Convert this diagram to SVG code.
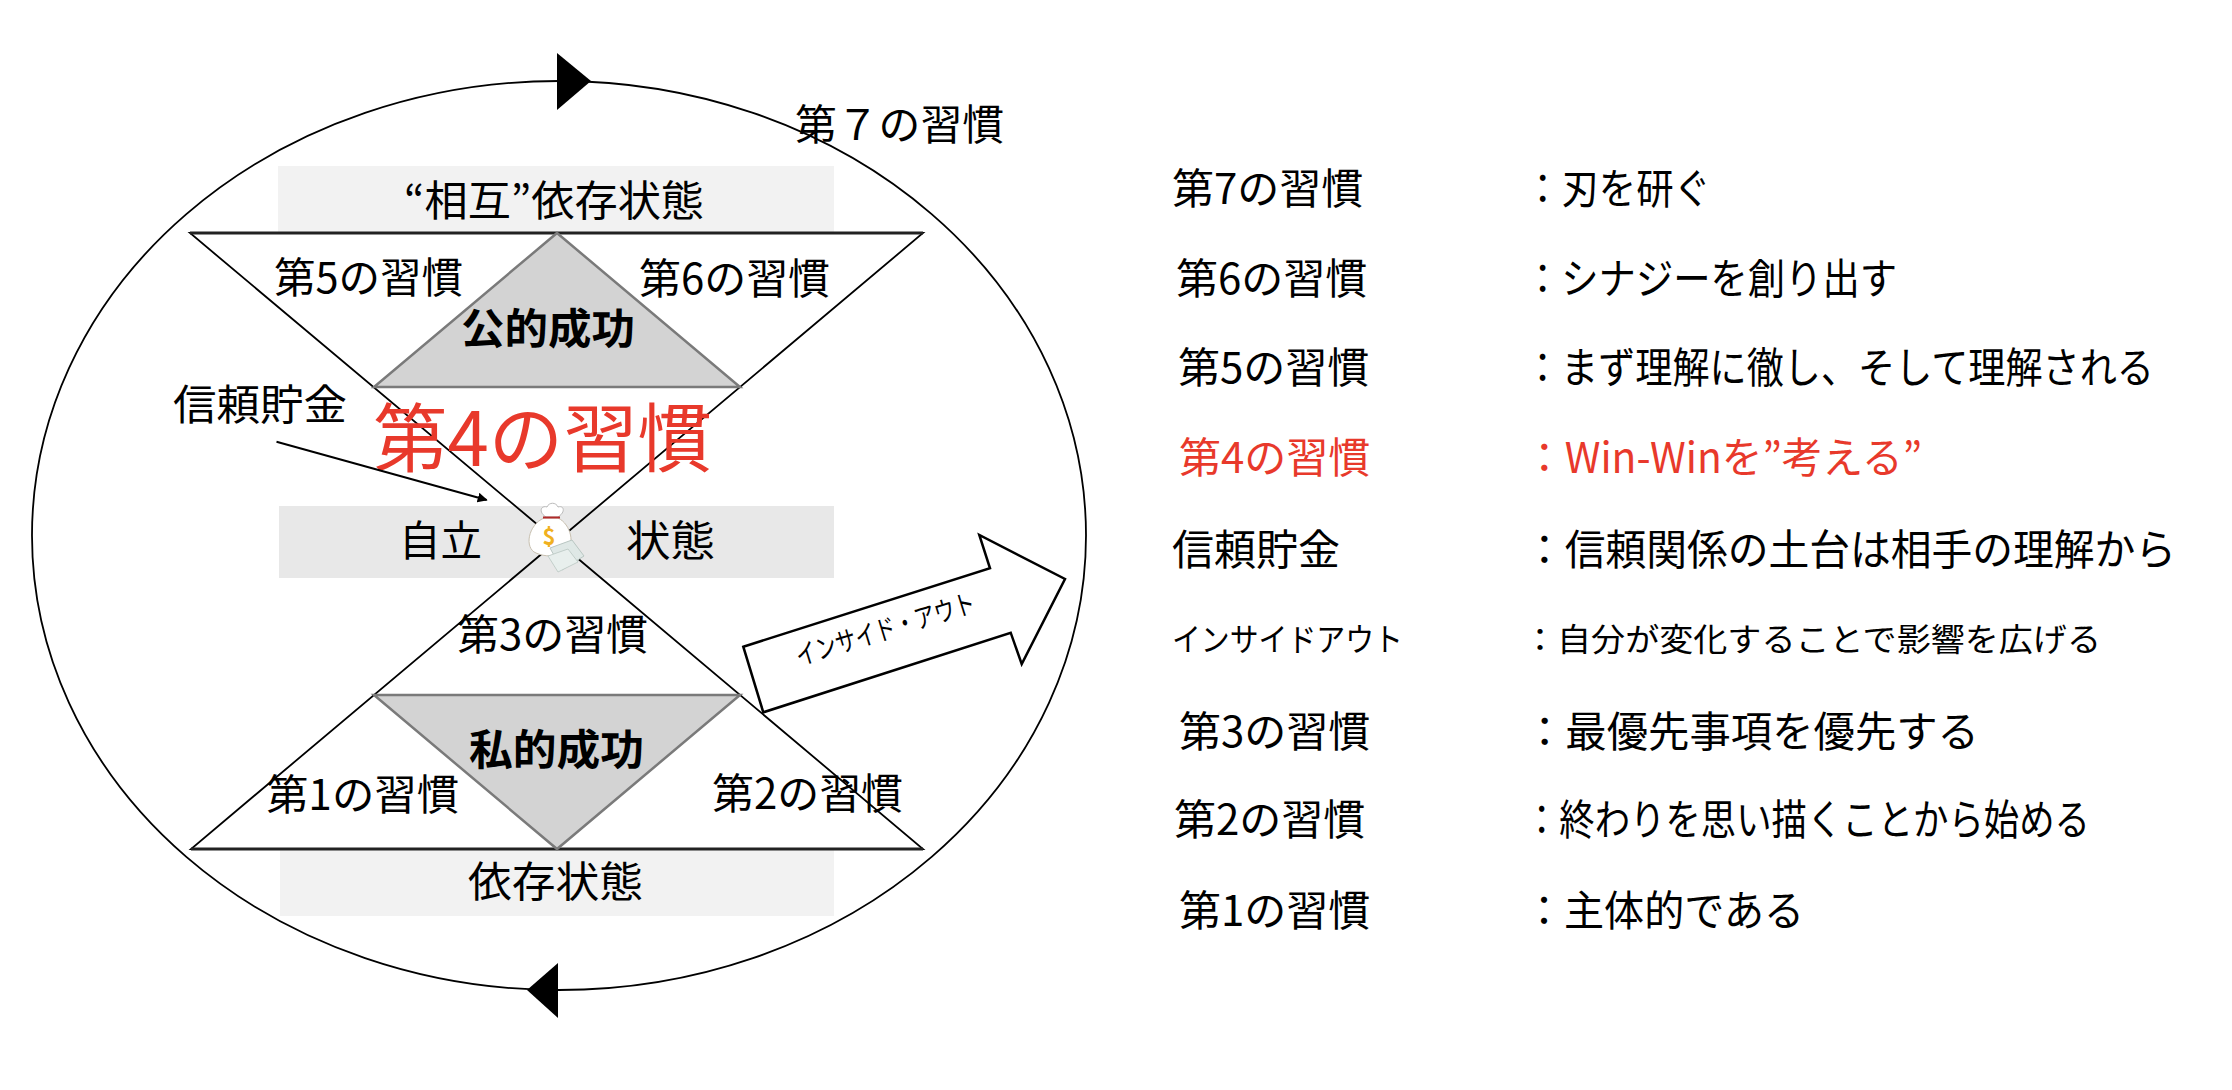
<svg xmlns="http://www.w3.org/2000/svg" width="2232" height="1090" viewBox="0 0 2232 1090">
<style>
text{font-family:"Noto Sans CJK JP","Noto Sans CJK SC",sans-serif;fill:#000;}
.t40{font-size:42px;}
.b{font-weight:bold;}
.red{fill:#e8392b;}
.box1{fill:#f2f2f2;}
.box2{fill:#e8e8e8;}
.ln{stroke:#000;stroke-width:1.8;fill:none;}
.base{stroke:#222;stroke-width:3;}
.gtri{fill:#d3d3d3;stroke:#7a7a7a;stroke-width:2.5;}
</style>
<defs>
<marker id="ah" markerWidth="10" markerHeight="10" refX="9" refY="5" orient="auto" markerUnits="userSpaceOnUse" viewBox="0 0 10 10">
<path d="M0,0 L10,5 L0,10 z" fill="#000"/>
</marker>
</defs>
<rect width="2232" height="1090" fill="#fff"/>

<g id="cycle">
<ellipse cx="559" cy="535.5" rx="527" ry="454.5" fill="none" stroke="#000" stroke-width="1.8"/>
<path d="M557,53 L591,81 L557,110 z" fill="#000"/>
<path d="M558,963 L527,990 L558,1018 z" fill="#000"/>
<text class="t40" x="795" y="140" textLength="209" lengthAdjust="spacingAndGlyphs">第７の習慣</text>
</g>

<g id="boxes">
<rect class="box1" x="278" y="166" width="556" height="67"/>
<rect class="box2" x="279" y="506" width="555" height="72"/>
<rect class="box1" x="280" y="849" width="554" height="67"/>
</g>

<g id="hourglass">
<polygon class="ln" points="190,233 923,233 557,541"/>
<polygon class="ln" points="557,541 191,849 923,849"/>
<line class="base" x1="190" y1="233" x2="923" y2="233"/>
<line class="base" x1="191" y1="849" x2="923" y2="849"/>
<polygon class="gtri" points="557,233 740,387 374,387"/>
<polygon class="gtri" points="374,695 740,695 557,849"/>
</g>

<g id="labels-top">
<text class="t40" x="404" y="216" textLength="300" lengthAdjust="spacingAndGlyphs">“相互”依存状態</text>
<text class="t40" x="274" y="293" textLength="189" lengthAdjust="spacingAndGlyphs">第5の習慣</text>
<text class="t40" x="639" y="294" textLength="191" lengthAdjust="spacingAndGlyphs">第6の習慣</text>
<text class="t40 b" x="461" y="344" textLength="174" lengthAdjust="spacingAndGlyphs">公的成功</text>
<text class="t40" x="173" y="420" textLength="174" lengthAdjust="spacingAndGlyphs">信頼貯金</text>
<text class="red" x="373" y="466" font-size="75" textLength="339" lengthAdjust="spacingAndGlyphs">第4の習慣</text>
</g>

<g id="labels-mid">
<text class="t40" x="399" y="556" textLength="83" lengthAdjust="spacingAndGlyphs">自立</text>
<text class="t40" x="626" y="556" textLength="89" lengthAdjust="spacingAndGlyphs">状態</text>
</g>

<g id="labels-bottom">
<text class="t40" x="457" y="650" textLength="191" lengthAdjust="spacingAndGlyphs">第3の習慣</text>
<text class="t40 b" x="469" y="765" textLength="175" lengthAdjust="spacingAndGlyphs">私的成功</text>
<text class="t40" x="266" y="810" textLength="193" lengthAdjust="spacingAndGlyphs">第1の習慣</text>
<text class="t40" x="712" y="809" textLength="191" lengthAdjust="spacingAndGlyphs">第2の習慣</text>
<text class="t40" x="468" y="897" textLength="175" lengthAdjust="spacingAndGlyphs">依存状態</text>
</g>

<g id="moneybag">
<path d="M546,517 C538,512 541,505 547,507 C549,502 556,502 558,507 C564,505 566,512 558,517 z" fill="#fff" stroke="#bbb" stroke-width="1"/>
<path d="M544,518 C528,525 524,548 536,553 C545,557 556,557 565,552 C576,546 571,524 558,518 z" fill="#fff" stroke="#c8c0b0" stroke-width="1"/>
<line x1="543" y1="517.5" x2="560" y2="517.5" stroke="#b02a2a" stroke-width="2"/>
<text x="549" y="545" font-size="22" font-weight="bold" text-anchor="middle" style="fill:#f0b020">$</text>
<polygon points="550,548 572,540 584,556 562,570" fill="#dfe8e6" stroke="#b9c6c2" stroke-width="1"/>
<polygon points="548,556 568,549 578,562 558,572" fill="#e8efed" stroke="#b9c6c2" stroke-width="0.8"/>
</g>

<g id="insideout">
<polygon points="743.3,646.7 990,568.3 979.3,535 1065,579 1021.7,664 1010.7,632.7 763.3,712.3" fill="#fff" stroke="#000" stroke-width="2.5" stroke-linejoin="miter"/>
<text x="885.5" y="639" font-size="27" text-anchor="middle" textLength="186" lengthAdjust="spacingAndGlyphs" transform="rotate(-17.1 885.5 630)">インサイド・アウト</text>
</g>

<g id="connectors">
<line x1="276.5" y1="441.7" x2="486.7" y2="500" stroke="#000" stroke-width="2" marker-end="url(#ah)"/>
</g>

<g id="list">
<text class="t40" x="1172" y="204">第7の習慣</text>
<text class="t40" x="1524" y="204" textLength="187" lengthAdjust="spacingAndGlyphs">：刃を研ぐ</text>
<text class="t40" x="1176" y="294">第6の習慣</text>
<text class="t40" x="1524" y="294" textLength="373" lengthAdjust="spacingAndGlyphs">：シナジーを創り出す</text>
<text class="t40" x="1178" y="383">第5の習慣</text>
<text class="t40" x="1524" y="383" textLength="630" lengthAdjust="spacingAndGlyphs">：まず理解に徹し、そして理解される</text>
<text class="t40 red" x="1179" y="473">第4の習慣</text>
<text class="t40 red" x="1524" y="473" textLength="398" lengthAdjust="spacingAndGlyphs">：Win-Winを”考える”</text>
<text class="t40" x="1172" y="565">信頼貯金</text>
<text class="t40" x="1524" y="565" textLength="652" lengthAdjust="spacingAndGlyphs">：信頼関係の土台は相手の理解から</text>
<text x="1172" y="651" font-size="32" textLength="231" lengthAdjust="spacingAndGlyphs">インサイドアウト</text>
<text x="1523" y="651" font-size="32" textLength="578" lengthAdjust="spacingAndGlyphs">：自分が変化することで影響を広げる</text>
<text class="t40" x="1179" y="747">第3の習慣</text>
<text class="t40" x="1524" y="747" textLength="455" lengthAdjust="spacingAndGlyphs">：最優先事項を優先する</text>
<text class="t40" x="1174" y="835">第2の習慣</text>
<text class="t40" x="1524" y="835" textLength="566" lengthAdjust="spacingAndGlyphs">：終わりを思い描くことから始める</text>
<text class="t40" x="1179" y="926">第1の習慣</text>
<text class="t40" x="1524" y="926" textLength="280" lengthAdjust="spacingAndGlyphs">：主体的である</text>
</g>
</svg>
